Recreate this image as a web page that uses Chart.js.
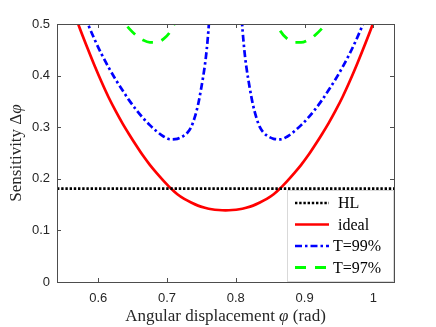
<!DOCTYPE html>
<html>
<head>
<meta charset="utf-8">
<script src="https://cdn.jsdelivr.net/npm/chart.js@4.4.1/dist/chart.umd.min.js"></script>
<style>
  body { margin: 0; background: #fff; }
  #wrap { width: 436px; height: 327px; }
</style>
</head>
<body>
<div id="wrap"><canvas id="myChart" width="436" height="327"></canvas></div>
<script>
// values (phase in rad, sensitivity)
const phiGrid = [0.535, 0.545, 0.555, 0.565, 0.575, 0.585, 0.595, 0.605, 0.615, 0.625,
  0.635, 0.645, 0.655, 0.665, 0.675, 0.685, 0.695, 0.705, 0.715, 0.725,
  0.735, 0.745, 0.755, 0.765, 0.775, 0.785, 0.795, 0.805, 0.815, 0.825,
  0.835, 0.845, 0.855, 0.865, 0.875, 0.885, 0.895, 0.905, 0.915, 0.925,
  0.935, 0.945, 0.955, 0.965, 0.975, 0.985, 0.995, 1.005, 1.015, 1.025, 1.035];
const idealVals = [0.640, 0.597, 0.558, 0.521, 0.485, 0.451, 0.418, 0.387, 0.358, 0.332,
  0.308, 0.286, 0.265, 0.245, 0.227, 0.211, 0.196, 0.182, 0.170, 0.161,
  0.154, 0.148, 0.144, 0.141, 0.1395, 0.139, 0.1395, 0.141, 0.144, 0.148,
  0.154, 0.161, 0.170, 0.182, 0.196, 0.211, 0.227, 0.245, 0.265, 0.286,
  0.308, 0.332, 0.358, 0.387, 0.418, 0.451, 0.485, 0.521, 0.558, 0.597, 0.640];

const t99Phi = [0.565, 0.575, 0.585, 0.595, 0.605, 0.615, 0.625, 0.635, 0.645, 0.655,
  0.665, 0.675, 0.685, 0.695, 0.705, 0.715, 0.725, 0.73, 0.735, 0.74,
  0.745, 0.75, 0.755, 0.7575, 0.76, 0.7625, 0.765, 0.77, 0.775,
  0.785,
  0.795, 0.80, 0.805, 0.8075, 0.81, 0.8125, 0.815, 0.82, 0.825, 0.83,
  0.835, 0.84, 0.845, 0.855, 0.865, 0.875, 0.885, 0.895, 0.905, 0.915,
  0.925, 0.935, 0.945, 0.955, 0.965, 0.975, 0.985, 0.995, 1.005];
const t99Vals = [0.571, 0.534, 0.500, 0.469, 0.441, 0.416, 0.393, 0.372, 0.352, 0.334,
  0.318, 0.304, 0.292, 0.282, 0.2765, 0.2775, 0.284, 0.290, 0.300, 0.318,
  0.343, 0.378, 0.420, 0.448, 0.485, 0.535, 0.600, 0.800, 1.200,
  null,
  1.200, 0.800, 0.600, 0.535, 0.485, 0.448, 0.420, 0.378, 0.343, 0.318,
  0.300, 0.290, 0.284, 0.2775, 0.2765, 0.282, 0.292, 0.304, 0.318, 0.334,
  0.352, 0.372, 0.393, 0.416, 0.441, 0.469, 0.500, 0.534, 0.571];

const t97Phi = [0.625, 0.635, 0.645, 0.655, 0.665, 0.675, 0.685, 0.695, 0.705, 0.715, 0.725,
  0.785,
  0.845, 0.855, 0.865, 0.875, 0.885, 0.895, 0.905, 0.915, 0.925, 0.935, 0.945];
const t97Vals = [0.526, 0.507, 0.491, 0.478, 0.469, 0.4645, 0.4645, 0.471, 0.486, 0.515, 0.560,
  null,
  0.560, 0.515, 0.486, 0.471, 0.4645, 0.4645, 0.469, 0.478, 0.491, 0.507, 0.526];

const hlPhi = [0.54, 1.03];
const hlVals = [0.181, 0.181];

const xTicks = [0.6, 0.7, 0.8, 0.9, 1];
const yTicks = [0, 0.1, 0.2, 0.3, 0.4, 0.5];
const seriesNames = ['HL', 'ideal', 'T=99%', 'T=97%'];

function pts(xs, ys) {
    return xs.map((x, i) => ({ x: x, y: ys[i] }));
}

const AXIS_COLOR = '#262626';

// box around the plot, inward ticks, axis titles and the legend
const framePlugin = {
    id: 'framePlugin',
    afterDraw(chart) {
        const ctx = chart.ctx;
        const a = chart.chartArea;
        const xs = chart.scales.x;
        const ys = chart.scales.y;
        ctx.save();
        ctx.strokeStyle = '#4d4d4d';
        ctx.lineWidth = 1;
        ctx.strokeRect(Math.round(a.left) + 0.5, Math.round(a.top) + 0.5,
            Math.round(a.right - a.left), Math.round(a.bottom - a.top));
        ctx.beginPath();
        xTicks.forEach(v => {
            const px = Math.round(xs.getPixelForValue(v)) + 0.5;
            ctx.moveTo(px, a.bottom); ctx.lineTo(px, a.bottom - 4);
            ctx.moveTo(px, a.top); ctx.lineTo(px, a.top + 4);
        });
        yTicks.forEach(v => {
            const py = Math.round(ys.getPixelForValue(v)) + 0.5;
            ctx.moveTo(a.left, py); ctx.lineTo(a.left + 4, py);
            ctx.moveTo(a.right, py); ctx.lineTo(a.right - 4, py);
        });
        ctx.stroke();

        // legend inside the lower right corner
        const lx = 287.5, ly = 190.5;
        ctx.fillStyle = '#fff';
        ctx.fillRect(lx, ly, a.right - lx, a.bottom - ly);
        ctx.strokeStyle = '#d9d9d9';
        ctx.strokeRect(lx, ly, a.right - lx - 0.5, a.bottom - ly - 0.5);
        ctx.font = '16px "Liberation Serif"';
        ctx.textBaseline = 'middle';
        ctx.textAlign = 'left';
        chart.data.datasets.forEach((ds, i) => {
            const y = 203 + i * 21.5;
            ctx.beginPath();
            ctx.strokeStyle = ds.borderColor;
            ctx.lineWidth = ds.borderWidth;
            ctx.setLineDash(ds.borderDash || []);
            ctx.moveTo(295, y); ctx.lineTo(329, y);
            ctx.stroke();
            ctx.setLineDash([]);
            ctx.fillStyle = '#000';
            ctx.fillText(ds.label, i < 2 ? 338 : 333, y + 1);
        });

        // axis titles (varphi in italic)
        ctx.fillStyle = AXIS_COLOR;
        const normal = '17px "Liberation Serif"';
        const italic = 'italic 17px "Liberation Serif"';
        function drawMixed(parts, cx, cy) {
            let total = 0;
            parts.forEach(p => { ctx.font = p[1]; total += ctx.measureText(p[0]).width; });
            let x = cx - total / 2;
            parts.forEach(p => {
                ctx.font = p[1];
                ctx.fillText(p[0], x, cy);
                x += ctx.measureText(p[0]).width;
            });
        }
        ctx.textBaseline = 'alphabetic';
        drawMixed([['Angular displacement ', normal], ['\u03C6', italic], [' (rad)', normal]],
            (a.left + a.right) / 2, 321);
        ctx.save();
        ctx.translate(21, (a.top + a.bottom) / 2);
        ctx.rotate(-Math.PI / 2);
        drawMixed([['Sensitivity \u0394', normal], ['\u03C6', italic]], 0, 0);
        ctx.restore();
        ctx.restore();
    }
};

const ctx = document.getElementById('myChart').getContext('2d');
const myChart = new Chart(ctx, {
    type: 'line',
    data: {
        datasets: [
            {
                label: seriesNames[0], data: pts(hlPhi, hlVals),
                borderColor: '#000000', borderWidth: 2.6, borderDash: [2.4, 1.8]
            },
            {
                label: seriesNames[1], data: pts(phiGrid, idealVals),
                borderColor: '#ff0000', borderWidth: 2.7
            },
            {
                label: seriesNames[2], data: pts(t99Phi, t99Vals),
                borderColor: '#0000ff', borderWidth: 2.7, borderDash: [7, 3, 2.5, 3]
            },
            {
                label: seriesNames[3], data: pts(t97Phi, t97Vals),
                borderColor: '#00ff00', borderWidth: 2.8, borderDash: [11, 9]
            }
        ]
    },
    options: {
        responsive: false,
        animation: false,
        devicePixelRatio: 1,
        layout: { padding: { left: 0, right: 42, top: 24, bottom: 0 } },
        elements: {
            point: { radius: 0 },
            line: { fill: false, cubicInterpolationMode: 'monotone' }
        },
        datasets: { line: { clip: 0, spanGaps: false } },
        scales: {
            x: {
                type: 'linear', min: 0.54, max: 1.03,
                afterBuildTicks: s => { s.ticks = xTicks.map(v => ({ value: v })); },
                afterFit: s => { s.height = 45; },
                grid: { display: false, drawTicks: false },
                border: { display: false },
                ticks: {
                    padding: 9, color: AXIS_COLOR,
                    font: { family: '"Liberation Sans"', size: 13 },
                    callback: v => String(v)
                }
            },
            y: {
                type: 'linear', min: 0, max: 0.5,
                afterBuildTicks: s => { s.ticks = yTicks.map(v => ({ value: v })); },
                afterFit: s => { s.width = 57; },
                grid: { display: false, drawTicks: false },
                border: { display: false },
                ticks: {
                    padding: 7, color: AXIS_COLOR,
                    font: { family: '"Liberation Sans"', size: 13 },
                    callback: v => String(v)
                }
            }
        },
        plugins: {
            legend: { display: false },
            tooltip: { enabled: false }
        }
    },
    plugins: [framePlugin]
});
</script>
</body>
</html>
